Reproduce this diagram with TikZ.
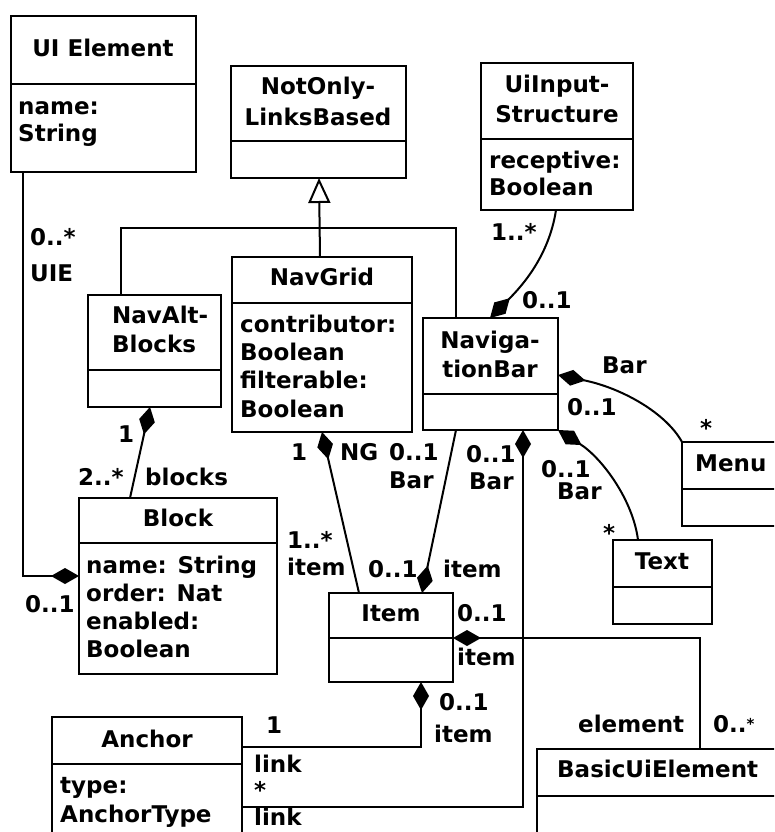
\documentclass[tikz,border=0pt]{standalone}
\usepackage{fontspec}
\setmainfont{DejaVu Sans}
\usetikzlibrary{arrows.meta,calc}
\newcounter{txtno}
\tikzset{
  classbox/.style={draw, line width=2.7pt, inner sep=0pt, outer sep=0pt},
  divline/.style={line width=2.7pt},
  conn/.style={line width=2pt},
  txt/.style={inner sep=0pt, font=\fontsize{23}{28}\selectfont\bfseries},
  comp/.tip={Diamond[length=28pt, width=16pt]},
  gen/.tip={Triangle[open, length=25pt, width=22pt]}
}
% class box: name, left, top, right, bottom, y of the compartment line
\newcommand\umlclass[6]{%
  \pgfmathsetmacro\bw{#4-#2}\pgfmathsetmacro\bh{#5-#3}%
  \node[classbox, minimum width=\bw pt, minimum height=\bh pt, anchor=north west] (#1) at (#2,#3) {};
  \coordinate (#1-div) at (0,#6);
  \draw[divline] (#1.west |- #1-div) -- (#1.east |- #1-div);
}
% left-aligned text on a baseline
\newcommand\tw[3]{\stepcounter{txtno}\node[txt, anchor=base west] (txt\arabic{txtno}) at (#1,#2) {#3};}
% centred text on a baseline
\newcommand\tc[3]{\stepcounter{txtno}\node[txt, anchor=base] (txt\arabic{txtno}) at (#1,#2) {#3};}
\begin{document}
\begin{tikzpicture}[x=1pt,y=-1pt]
\useasboundingbox (0,0) rectangle (774,832);
\fill[white] (0,0) rectangle (774,832);
\clip (0,0) rectangle (774,832);

% ---- classes
\umlclass{uiel}{11}{16}{196}{172}{84}
\tc{103}{57}{UI Element}
\tw{18}{115}{name:}
\tw{18}{142}{String}

\umlclass{notonly}{231}{66}{406}{178}{141}
\tc{318}{95}{NotOnly-}
\tc{318}{125}{LinksBased}

\umlclass{uiin}{481}{63}{633}{210}{139}
\tc{557}{93}{UiInput-}
\tc{557}{122}{Structure}
\tw{489}{168}{receptive:}
\tw{489}{195}{Boolean}

\umlclass{navgrid}{232}{257}{412}{432}{303}
\tc{322}{285}{NavGrid}
\tw{240}{332}{contributor:}
\tw{240}{360}{Boolean}
\tw{240}{388}{filterable:}
\tw{240}{417}{Boolean}

\umlclass{navalt}{88}{295}{221}{407}{370}
\tw{112}{323}{NavAlt-}
\tw{112}{352}{Blocks}

\umlclass{navbar}{423}{318}{558}{430}{394}
\tc{490}{348}{Naviga-}
\tc{490}{377}{tionBar}

\umlclass{block}{79}{498}{277}{674}{543}
\tc{178}{526}{Block}
\tw{86}{573}{name: String}
\tw{86}{601}{order: Nat}
\tw{86}{629}{enabled:}
\tw{86}{657}{Boolean}

\umlclass{menu}{682}{442}{800}{526}{489}
\tw{695}{471}{Menu}

\umlclass{text}{613}{540}{712}{624}{587}
\tc{662}{569}{Text}

\umlclass{item}{329}{593}{453}{682}{638}
\tc{391}{621}{Item}

\umlclass{anchor}{52}{717}{242}{850}{764}
\tc{147}{747}{Anchor}
\tw{60}{793}{type:}
\tw{60}{822}{AnchorType}

\umlclass{basic}{537}{749}{800}{850}{796}
\tw{557}{777}{BasicUiElement}

% ---- generalisation NavAltBlocks / NavGrid / NavigationBar -> NotOnlyLinksBased
\draw[conn, -gen] ($(navgrid.north west)+(88,0)$) -- ($(notonly.south west)+(88,0)$);
\draw[conn] ($(navalt.north west)+(33,0)$) -- ++(0,-67) -| ($(navbar.north west)+(33,0)$);

% ---- compositions
\draw[conn, -comp] ($(uiel.south west)+(12,0)$) |- ($(block.north west)+(0,78)$);
\draw[conn, comp-] ($(navalt.south west)+(62,0)$) -- ($(block.north west)+(51,0)$);
\draw[conn, comp-] ($(navgrid.south west)+(90,0)$) -- ($(item.north west)+(30,0)$);
\draw[conn, -comp] ($(navbar.south west)+(33,0)$) -- ($(item.north west)+(93,0)$);
\draw[conn, comp-] ($(navbar.south west)+(100,0)$) |- ($(anchor.north east)+(0,90)$);
\draw[conn, -comp] ($(anchor.north east)+(0,30)$) -| ($(item.south west)+(92,0)$);
\draw[conn, comp-] ($(item.north east)+(0,45)$) -| ($(basic.north west)+(163,0)$);
\draw[conn, -comp] ($(uiin.south west)+(75,0)$) .. controls (549,256) and (522,286) .. ($(navbar.north west)+(67,0)$);
\draw[conn, comp-] ($(navbar.north east)+(0,57)$) .. controls (622,388) and (666,413) .. (menu.north west);
\draw[conn, comp-] (navbar.south east) .. controls (602,458) and (633,500) .. ($(text.north west)+(25,0)$);

% ---- role names and multiplicities
\tw{30}{245}{0..*}
\tw{30}{281}{UIE}
\tw{25}{612}{0..1}
\tw{118}{442}{1}
\tw{78}{485}{2..*}
\tw{145}{485}{blocks}
\tw{291}{460}{1}
\tw{340}{460}{NG}
\tw{389}{460}{0..1}
\tw{389}{488}{Bar}
\tw{466}{462}{0..1}
\tw{469}{489}{Bar}
\tw{541}{477}{0..1}
\tw{557}{499}{Bar}
\tw{603}{541}{*}
\tw{700}{436}{*}
\tw{602}{373}{Bar}
\tw{567}{415}{0..1}
\tw{491}{240}{1..*}
\tw{522}{308}{0..1}
\tw{287}{548}{1..*}
\tw{287}{575}{item}
\tw{368}{577}{0..1}
\tw{443}{577}{item}
\tw{457}{621}{0..1}
\tw{457}{665}{item}
\tw{439}{710}{0..1}
\tw{434}{742}{item}
\tw{266}{733}{1}
\tw{254}{772}{link}
\tw{254}{798}{*}
\tw{254}{825}{link}
\tw{578}{732}{element}
\tw{713}{732}{0..{\fontsize{15}{15}\selectfont\raisebox{3pt}{*}}}
\end{tikzpicture}
\end{document}
